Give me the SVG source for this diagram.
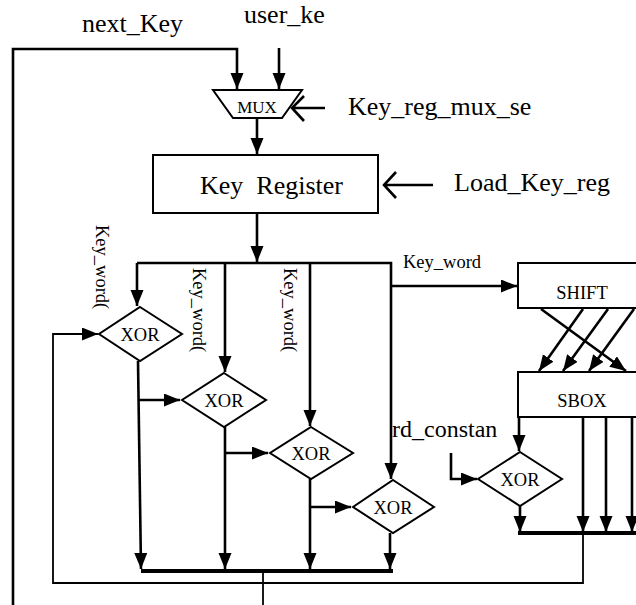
<svg xmlns="http://www.w3.org/2000/svg" width="636" height="605" viewBox="0 0 636 605">
<style>
text{font-family:"Liberation Serif","Times New Roman",serif;fill:#000}
.lbl{font-size:26px}
.sm{font-size:18.5px}
.shape{fill:#fff;stroke:#000;stroke-width:2}
.w{fill:none;stroke:#000;stroke-width:2.6}
.t{fill:none;stroke:#000;stroke-width:1.8}
.bus{fill:none;stroke:#000;stroke-width:4}
</style>
<defs>
<marker id="ah" markerUnits="userSpaceOnUse" markerWidth="17" markerHeight="14" refX="16" refY="6.5" orient="auto">
<path d="M0,0 L16,6.5 L0,13 z" fill="#000"/>
</marker>
</defs>
<rect width="636" height="605" fill="#fff"/>

<g id="connectors">
<!-- inputs to MUX -->
<path class="w" d="M13,605 V49 H237 V89" marker-end="url(#ah)"/>
<path class="w" d="M279,48 V89" marker-end="url(#ah)"/>
<path class="w" d="M325,108 H293 M304,96 L292,108 L304,121"/>
<path class="w" d="M257,118 V154" marker-end="url(#ah)"/>
<path class="w" d="M433,185 H384 M396,172 L384,185 L396,198"/>
<!-- register output -->
<path class="w" d="M257,213 V262" marker-end="url(#ah)"/>
<path class="w" d="M137,263 H391 V479" marker-end="url(#ah)"/>
<path class="w" d="M137,263 V306" marker-end="url(#ah)"/>
<path class="w" d="M225,263 V372" marker-end="url(#ah)"/>
<path class="w" d="M310,263 V426" marker-end="url(#ah)"/>
<path class="w" d="M391,286 H517" marker-end="url(#ah)"/>
<!-- XOR chain -->
<path class="w" d="M138,361 L141,569" marker-end="url(#ah)"/>
<path class="w" d="M138,400 H180" marker-end="url(#ah)"/>
<path class="w" d="M225,427 V569" marker-end="url(#ah)"/>
<path class="w" d="M225,453 H268" marker-end="url(#ah)"/>
<path class="w" d="M310,479 V569" marker-end="url(#ah)"/>
<path class="w" d="M310,507 H351" marker-end="url(#ah)"/>
<path class="w" d="M390,533 V569" marker-end="url(#ah)"/>
<path class="bus" d="M141,571 H393"/>
<path class="t" d="M263,571 V605"/>
<!-- SHIFT to SBOX -->
<path class="w" d="M583,309 L539,371" marker-end="url(#ah)"/>
<path class="w" d="M608,309 L563,371" marker-end="url(#ah)"/>
<path class="w" d="M634,309 L589,371" marker-end="url(#ah)"/>
<path class="w" d="M541,309 L626,371" marker-end="url(#ah)"/>
<!-- SBOX outputs -->
<path class="w" d="M519,417 V451" marker-end="url(#ah)"/>
<path class="w" d="M451,453 V479 H477" marker-end="url(#ah)"/>
<path class="w" d="M520,506 V532" marker-end="url(#ah)"/>
<path class="w" d="M583,417 V532" marker-end="url(#ah)"/>
<path class="w" d="M606,417 V532" marker-end="url(#ah)"/>
<path class="w" d="M632,417 V532" marker-end="url(#ah)"/>
<path class="bus" d="M518,533 H640"/>
<!-- feedback -->
<path class="t" d="M583,533 V583 H53 V334 H98" marker-end="url(#ah)"/>
</g>

<g id="mux">
<path class="shape" d="M213,90 H302 L282,118 H233 Z"/>
<text x="257" y="113" font-size="17" text-anchor="middle">MUX</text>
</g>

<g id="keyreg">
<rect class="shape" x="153" y="155" width="225" height="58"/>
<text class="lbl" x="200" y="194" xml:space="preserve">Key  Register</text>
</g>

<g id="xor1">
<path class="shape" d="M140,307 L182,334 L140,361 L99,334 Z"/>
<text class="sm" x="140" y="341" text-anchor="middle">XOR</text>
</g>
<g id="xor2">
<path class="shape" d="M224,373 L266,400 L224,427 L182,400 Z"/>
<text class="sm" x="224" y="407" text-anchor="middle">XOR</text>
</g>
<g id="xor3">
<path class="shape" d="M311,427 L353,453 L311,479 L270,453 Z"/>
<text class="sm" x="311" y="460" text-anchor="middle">XOR</text>
</g>
<g id="xor4">
<path class="shape" d="M393,480 L434,507 L393,533 L353,507 Z"/>
<text class="sm" x="393" y="514" text-anchor="middle">XOR</text>
</g>
<g id="xor5">
<path class="shape" d="M520,452 L562,479 L520,506 L478,479 Z"/>
<text class="sm" x="520" y="486" text-anchor="middle">XOR</text>
</g>

<g id="shift">
<rect class="shape" x="518" y="263" width="128" height="45"/>
<text class="sm" x="582" y="299" text-anchor="middle">SHIFT</text>
</g>
<g id="sbox">
<rect class="shape" x="518" y="372" width="128" height="45"/>
<text class="sm" x="582" y="407" text-anchor="middle">SBOX</text>
</g>

<g id="labels">
<text class="lbl" x="82" y="32">next_Key</text>
<text class="lbl" x="244" y="23">user_ke</text>
<text class="lbl" x="348" y="115">Key_reg_mux_se</text>
<text class="lbl" x="454" y="191">Load_Key_reg</text>
<text class="sm" x="403" y="268">Key_word</text>
<text font-size="24" x="392" y="437">rd_constan</text>
<text class="sm" transform="translate(96,225) rotate(90)">Key_word(</text>
<text class="sm" transform="translate(193,268) rotate(90)">Key_word(</text>
<text class="sm" transform="translate(284,268) rotate(90)">Key_word(</text>
</g>
</svg>
